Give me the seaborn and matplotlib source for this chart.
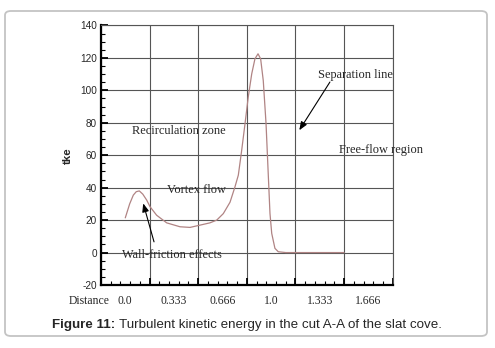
import matplotlib
matplotlib.use("Agg")
import matplotlib.pyplot as plt
from matplotlib.ticker import FixedLocator, MultipleLocator, NullFormatter
from matplotlib.patches import FancyBboxPatch
import numpy as np
import seaborn as sns
import pandas as pd

# ---- data ----
distance = [0.0, 0.03, 0.055, 0.075, 0.096, 0.12, 0.147, 0.17, 0.215, 0.284,
            0.375, 0.444, 0.512, 0.58, 0.627, 0.672, 0.718, 0.752, 0.775, 0.798,
            0.821, 0.843, 0.867, 0.889, 0.91, 0.928, 0.946, 0.965, 0.98, 0.992,
            1.004, 1.026, 1.049, 1.1, 1.5]
tke = [21.4, 30.0, 35.4, 37.5, 38.0, 36.0, 32.3, 28.2, 23.0, 18.3,
       15.9, 15.5, 16.9, 18.3, 20.0, 24.0, 31.0, 40.5, 47.7, 63.0,
       79.5, 95.8, 110.2, 119.4, 122.5, 119.4, 106.0, 79.5, 48.7, 24.1,
       11.8, 2.6, 0.5, 0.0, 0.0]
x_tick_values = [0.0, 1/3, 2/3, 1.0, 4/3, 5/3]
x_tick_labels = ["0.0", "0.333", "0.666", "1.0", "1.333", "1.666"]
x_grid = [-1/6, 1/6, 1/2, 5/6, 7/6, 3/2, 11/6]
y_ticks = [-20, 0, 20, 40, 60, 80, 100, 120, 140]

df = pd.DataFrame({"Distance": distance, "tke": tke})

sns.set_style("white")
plt.rcParams["font.family"] = ["Liberation Sans", "DejaVu Sans"]

fig = plt.figure(figsize=(4.95, 3.48), dpi=100)
ax = fig.add_axes([0.204, 0.181, 0.5893, 0.746])

sns.lineplot(data=df, x="Distance", y="tke", ax=ax, color="#b08484",
             linewidth=0.9, sort=False)

ax.set_xlim(-1/6, 11/6)
ax.set_ylim(-20, 140)
ax.xaxis.set_major_locator(FixedLocator(x_grid))
x_minor = [g + k * (1/15) for g in x_grid[:-1] for k in range(1, 5)]
ax.xaxis.set_minor_locator(FixedLocator(x_minor))
ax.xaxis.set_major_formatter(NullFormatter())
ax.set_yticks(y_ticks)
ax.yaxis.set_minor_locator(MultipleLocator(5))
ax.set_yticklabels([str(v) for v in y_ticks], fontsize=7.2, family="Liberation Sans")

ax.grid(True, which="major", color="#555555", linewidth=0.8)
ax.tick_params(axis="both", which="major", direction="in", length=5, width=1.3,
               color="black", left=True, bottom=True, right=False, top=False, pad=3)
ax.tick_params(axis="both", which="minor", direction="in", length=3, width=0.8,
               color="black", left=True, bottom=True, right=False, top=False)

for s in ["left", "bottom"]:
    ax.spines[s].set_color("black")
    ax.spines[s].set_linewidth(1.6)
for s in ["top", "right"]:
    ax.spines[s].set_color("#555555")
    ax.spines[s].set_linewidth(0.8)

ax.set_xlabel("")
ax.set_ylabel("tke", fontsize=8.2, fontweight="bold", labelpad=5)

# x tick labels (placed between grid lines as in the original)
xt = ax.get_xaxis_transform()
for v, lab in zip(x_tick_values, x_tick_labels):
    ax.text(v, -0.06, lab, transform=xt, ha="center", va="center",
            fontsize=8.4, family="Liberation Serif")
ax.text(-0.249, -0.06, "Distance", transform=xt, ha="center", va="center",
        fontsize=8.4, family="Liberation Serif")

serif = dict(fontsize=8.9, family="Liberation Serif", ha="center", va="center")
ax.text(0.368, 74.8, "Recirculation zone", **serif)
ax.text(1.578, 109.2, "Separation line", **serif)
ax.text(1.75, 63.1, "Free-flow region", **serif)
ax.text(0.485, 38.5, "Vortex flow", **serif)
ax.text(0.317, -1.5, "Wall-friction effects", **serif)

arrow = dict(arrowstyle="-|>,head_length=0.5,head_width=0.2", color="black",
             linewidth=0.8, shrinkA=0, shrinkB=0)
ax.annotate("", xy=(1.193, 75.4), xytext=(1.403, 105.1), arrowprops=arrow)
ax.annotate("", xy=(0.123, 30.3), xytext=(0.197, 6.6), arrowprops=arrow)

# caption
t1 = fig.text(52/495, 0.066, "Figure 11:", fontsize=9.6, fontweight="bold",
              ha="left", va="center", family="Liberation Sans")
fig.text(119/495, 0.066, "Turbulent kinetic energy in the cut A-A of the slat cove.",
         fontsize=9.6, ha="left", va="center", family="Liberation Sans")

# rounded frame
frame = FancyBboxPatch((5/495, 12/348), 482/495, 325/348,
                       boxstyle="round,pad=0,rounding_size=0.012",
                       transform=fig.transFigure, facecolor="none",
                       edgecolor="#c4c4c4", linewidth=1.3)
fig.patches.append(frame)

fig.savefig("out.png", dpi=100)
